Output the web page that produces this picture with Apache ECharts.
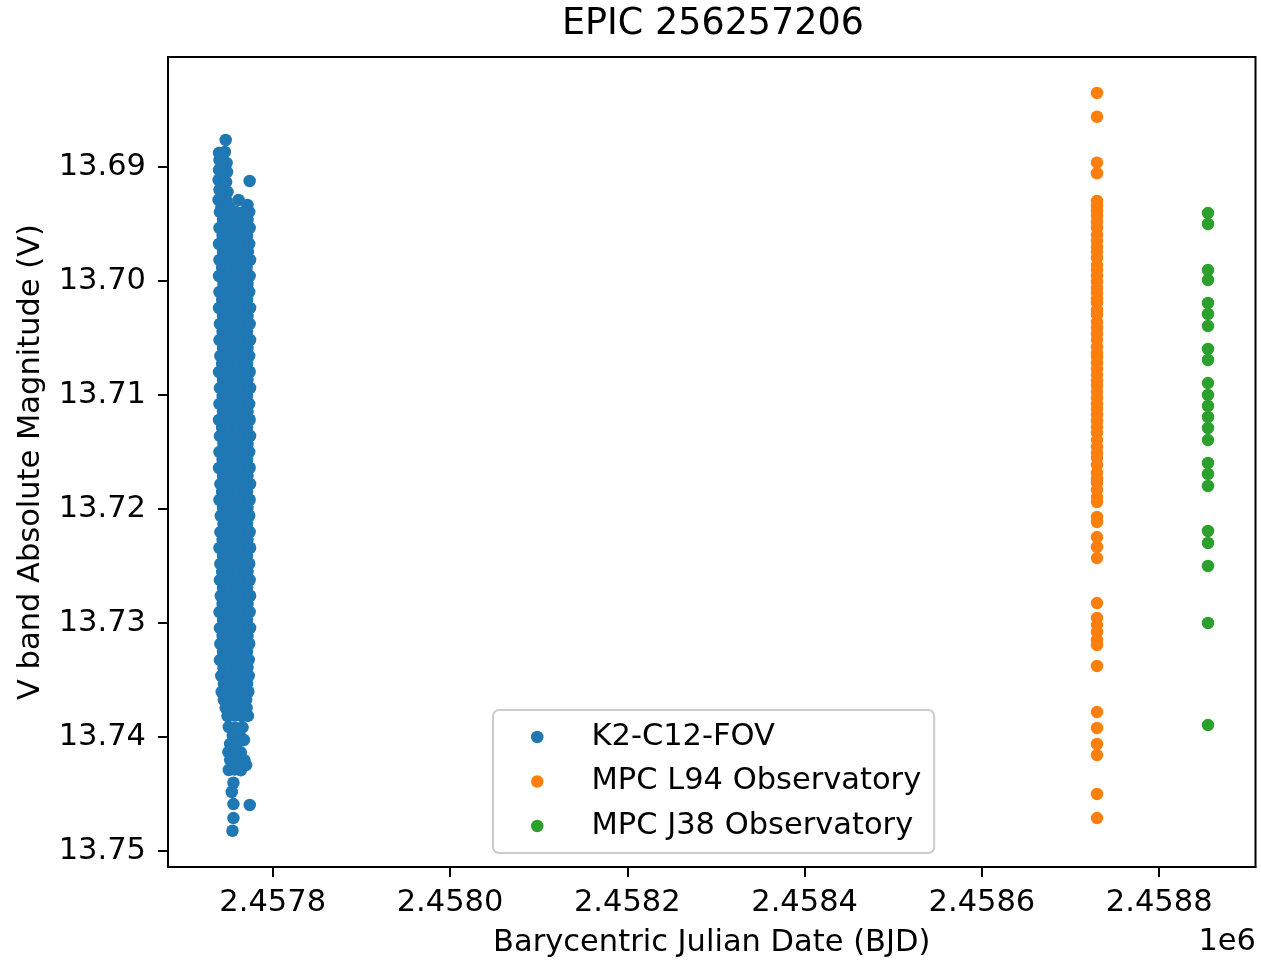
<!DOCTYPE html>
<html>
<head>
<meta charset="utf-8">
<script src="https://cdn.jsdelivr.net/npm/echarts@6/dist/echarts.min.js"></script>
<style>
html,body{margin:0;padding:0;background:#fff;}
#chart{width:1261px;height:960px;}
</style>
</head>
<body>
<div id="chart"></div>
<script>
// ---- Data ----
const chartTitle = 'EPIC 256257206';
const seriesNames = ['K2-C12-FOV', 'MPC L94 Observatory', 'MPC J38 Observatory'];
const xTicks = [2457800, 2458000, 2458200, 2458400, 2458600, 2458800];
const yTicks = [13.69, 13.70, 13.71, 13.72, 13.73, 13.74, 13.75];

// K2 campaign 12 photometry: [BJD, V mag]
const k2Points = [
[2457747.0,13.68763],
[2457739.5,13.68877],[2457746.0,13.68868],
[2457740.0,13.68939],[2457748.0,13.68965],
[2457739.5,13.69026],[2457748.5,13.69044],
[2457739.0,13.69114],[2457747.5,13.69132],[2457774.0,13.69123],
[2457740.0,13.69202],[2457749.0,13.69219],
[2457739.0,13.69289],[2457748.0,13.69298],[2457761.5,13.69289],
[2457771.5,13.69333],
[2457742.0,13.69360],[2457750.5,13.69350],
[2457740.5,13.69395],[2457749,13.69398],[2457758,13.69392],[2457766.5,13.69396],[2457773.5,13.69394],
[2457744,13.69465],[2457753,13.69462],[2457762,13.69468],[2457771.5,13.69464],
[2457740,13.69535],[2457749,13.69538],[2457758,13.69531],[2457767,13.69536],[2457774,13.69534],
[2457743.5,13.69605],[2457752.5,13.69602],[2457762,13.69608],[2457771,13.69604],
[2457739.5,13.69675],[2457749,13.69678],[2457758,13.69671],[2457767,13.69676],[2457773.5,13.69674],
[2457744,13.69746],[2457753,13.69742],[2457762,13.69748],[2457772,13.69745],
[2457740,13.69816],[2457749,13.69819],[2457758,13.69812],[2457767,13.69817],[2457774.5,13.69815],
[2457743,13.69886],[2457752,13.69882],[2457761,13.69889],[2457770.5,13.69885],
[2457739.5,13.69956],[2457749,13.69959],[2457758,13.69952],[2457767,13.69957],[2457774,13.69955],
[2457744.5,13.70026],[2457753,13.70022],[2457762,13.70029],[2457771.5,13.70025],
[2457740,13.70096],[2457749,13.70099],[2457758,13.70092],[2457767,13.70097],[2457773.5,13.70095],
[2457743,13.70167],[2457752.5,13.70163],[2457762,13.70169],[2457771,13.70166],
[2457739.5,13.70237],[2457749,13.70239],[2457758,13.70233],[2457767,13.70238],[2457774.5,13.70236],
[2457744,13.70307],[2457753,13.70303],[2457762,13.70309],[2457771.5,13.70306],
[2457740.5,13.70377],[2457749,13.70379],[2457758,13.70373],[2457767,13.70378],[2457774,13.70376],
[2457743.5,13.70447],[2457752.5,13.70443],[2457762,13.70449],[2457771,13.70446],
[2457740,13.70518],[2457749,13.70519],[2457758,13.70514],[2457767,13.70517],[2457774.5,13.70516],
[2457744,13.70588],[2457753,13.70584],[2457762,13.70589],[2457771.5,13.70587],
[2457741,13.70658],[2457749.5,13.70659],[2457758,13.70654],[2457767,13.70657],[2457773.5,13.70656],
[2457743,13.70728],[2457752,13.70724],[2457761.5,13.70729],[2457771,13.70727],
[2457739.5,13.70798],[2457749,13.70799],[2457758,13.70794],[2457767,13.70797],[2457774,13.70796],
[2457744,13.70868],[2457753,13.70864],[2457762,13.70869],[2457771.5,13.70867],
[2457740.5,13.70939],[2457749,13.70939],[2457758,13.70935],[2457767,13.70938],[2457774.5,13.70937],
[2457743.5,13.71009],[2457752.5,13.71005],[2457762,13.71010],[2457771,13.71008],
[2457740,13.71079],[2457749,13.71080],[2457758,13.71075],[2457767,13.71078],[2457773.5,13.71077],
[2457744,13.71149],[2457753,13.71145],[2457762,13.71150],[2457771.5,13.71148],
[2457739.5,13.71219],[2457749,13.71220],[2457758,13.71215],[2457767,13.71218],[2457774,13.71217],
[2457743,13.71289],[2457752,13.71285],[2457761,13.71290],[2457771,13.71288],
[2457740.5,13.71360],[2457749,13.71361],[2457758,13.71356],[2457767,13.71359],[2457774.5,13.71358],
[2457744.5,13.71430],[2457753,13.71426],[2457762,13.71431],[2457771.5,13.71429],
[2457740,13.71500],[2457749,13.71501],[2457758,13.71496],[2457767,13.71499],[2457773.5,13.71498],
[2457743.5,13.71570],[2457752.5,13.71566],[2457762,13.71571],[2457771,13.71569],
[2457739.5,13.71640],[2457749,13.71641],[2457758,13.71636],[2457767,13.71639],[2457774,13.71638],
[2457744,13.71711],[2457753,13.71707],[2457762,13.71712],[2457771.5,13.71710],
[2457741,13.71781],[2457749.5,13.71782],[2457758,13.71777],[2457767,13.71780],[2457774.5,13.71779],
[2457743,13.71851],[2457752,13.71847],[2457761.5,13.71852],[2457771,13.71850],
[2457740,13.71921],[2457749,13.71922],[2457758,13.71917],[2457767,13.71920],[2457774,13.71919],
[2457744,13.71991],[2457753,13.71987],[2457762,13.71992],[2457771.5,13.71990],
[2457741.5,13.72061],[2457750,13.72062],[2457758.5,13.72057],[2457767,13.72060],[2457773.5,13.72059],
[2457744.5,13.72132],[2457753,13.72128],[2457762,13.72133],[2457771,13.72131],
[2457741,13.72202],[2457749.5,13.72203],[2457758,13.72198],[2457767,13.72201],[2457774,13.72200],
[2457743.5,13.72272],[2457752.5,13.72268],[2457762,13.72273],[2457771.5,13.72271],
[2457740,13.72342],[2457749,13.72343],[2457758,13.72338],[2457767,13.72341],[2457774.5,13.72340],
[2457744,13.72412],[2457753,13.72408],[2457762,13.72413],[2457771,13.72411],
[2457741,13.72482],[2457749.5,13.72483],[2457758,13.72478],[2457767,13.72481],[2457773.5,13.72480],
[2457743,13.72553],[2457752,13.72549],[2457761.5,13.72554],[2457771.5,13.72552],
[2457740.5,13.72623],[2457749,13.72624],[2457758,13.72619],[2457767,13.72622],[2457774,13.72621],
[2457744,13.72693],[2457753,13.72689],[2457762,13.72694],[2457771,13.72692],
[2457741.5,13.72763],[2457750,13.72764],[2457758.5,13.72759],[2457767,13.72762],[2457774.5,13.72761],
[2457743.5,13.72833],[2457752.5,13.72829],[2457762,13.72834],[2457771.5,13.72832],
[2457740,13.72904],[2457749,13.72905],[2457758,13.72900],[2457767,13.72903],[2457774,13.72902],
[2457744,13.72974],[2457753,13.72970],[2457762,13.72975],[2457771,13.72973],
[2457740.5,13.73044],[2457749,13.73045],[2457758,13.73040],[2457767,13.73043],[2457774.5,13.73042],
[2457743.5,13.73114],[2457752.5,13.73110],[2457762,13.73115],[2457771.5,13.73113],
[2457741,13.73184],[2457749.5,13.73185],[2457758,13.73180],[2457767,13.73183],[2457773.5,13.73182],
[2457744,13.73254],[2457753,13.73250],[2457762,13.73255],[2457771,13.73253],
[2457740.5,13.73325],[2457749,13.73326],[2457758,13.73321],[2457767,13.73324],[2457773,13.73323],
[2457744.5,13.73395],[2457753,13.73391],[2457762,13.73396],[2457771.5,13.73394],
[2457742,13.73465],[2457750,13.73466],[2457758,13.73461],[2457766.5,13.73464],[2457773,13.73463],
[2457745,13.73535],[2457753.5,13.73531],[2457762,13.73536],[2457771,13.73534],
[2457742.5,13.73605],[2457750,13.73606],[2457758,13.73601],[2457766,13.73604],[2457772.5,13.73603],
[2457745,13.73675],[2457753,13.73671],[2457761.5,13.73676],[2457770,13.73674],
[2457747,13.73746],[2457755,13.73742],[2457763,13.73747],[2457770.5,13.73745],
[2457749,13.73816],[2457757,13.73812],[2457765,13.73817],[2457772,13.73815],
[2457750.5,13.73912],[2457758,13.73918],[2457766,13.73915],
[2457755,13.73991],[2457763,13.73988],
[2457767.5,13.74026],
[2457752,13.74061],[2457759,13.74058],
[2457750,13.74132],[2457757,13.74128],[2457764,13.74134],
[2457752,13.74202],[2457760,13.74198],[2457768,13.74204],
[2457770,13.74246],
[2457750.5,13.74289],[2457757,13.74285],[2457764,13.74291],
[2457755.7,13.74401],[2457753.8,13.74482],[2457755.7,13.74588],[2457774.1,13.74596],
[2457755.7,13.74711],[2457754.6,13.74822]
];

// MPC L94 observations (all at one epoch column)
const l94BJD = 2458729.8;
const l94Mag = [13.68351,13.68559,13.68962,13.69055,
13.69298,13.69342,13.69386,13.69430,13.69482,13.69535,13.69596,13.69649,13.69702,13.69746,
13.69798,13.69860,13.69904,13.69956,13.70009,13.70061,13.70105,13.70158,13.70193,13.70254,
13.70298,13.70360,13.70412,13.70465,13.70518,13.70579,13.70632,13.70667,13.70719,13.70772,
13.70825,13.70877,13.70921,13.70974,13.71026,13.71079,13.71123,13.71175,13.71228,13.71281,
13.71333,13.71395,13.71456,13.71509,13.71553,13.71614,13.71684,13.71737,13.71772,13.71833,
13.71895,13.71939,13.72070,13.72114,13.72246,13.72333,13.72430,
13.72825,13.72956,13.73018,13.73079,13.73149,13.73193,13.73377,
13.73781,13.73921,13.74061,13.74158,13.74500,13.74711];

// MPC J38 observations
const j38BJD = 2458855.0;
const j38Mag = [13.69404,13.69500,13.69904,13.69991,13.70193,13.70289,13.70395,13.70596,
13.70693,13.70895,13.71000,13.71096,13.71193,13.71289,13.71395,13.71596,13.71693,13.71798,
13.72193,13.72298,13.72500,13.73000,13.73895];

const colors = ['#1f77b4', '#ff7f0e', '#2ca02c'];
const FONT = 'DejaVu Sans';
const FS = 30.5;

const chart = echarts.init(document.getElementById('chart'), null, {renderer: 'canvas'});
const option = {
  animation: false,
  backgroundColor: '#ffffff',
  textStyle: {fontFamily: FONT, color: '#000'},
  grid: {left: 168, right: 5.5, top: 57, bottom: 93, show: true, borderColor: '#000', borderWidth: 2,
    backgroundColor: 'transparent', containLabel: false, outerBoundsMode: 'none'},
  title: {show: false},
  graphic: [
    {type: 'text', x: 713, y: 25, style: {text: chartTitle, font: '36.5px "DejaVu Sans"', fill: '#000', textAlign: 'center', textVerticalAlign: 'middle'}},
    {type: 'text', x: 1256, y: 942, style: {text: '1e6', font: FS + 'px "DejaVu Sans"', fill: '#000', textAlign: 'right', textVerticalAlign: 'middle'}}
  ],
  legend: {
    orient: 'vertical',
    left: 493, top: 710,
    padding: [10, 13, 10, 38],
    itemGap: 10.5,
    itemWidth: 12.5, itemHeight: 12.5,
    icon: 'circle',
    backgroundColor: 'rgba(255,255,255,0.8)',
    borderColor: '#cccccc', borderWidth: 2, borderRadius: 6,
    textStyle: {fontFamily: FONT, fontSize: FS, color: '#000', lineHeight: 34, padding: [0, 0, 0, 43]},
    data: seriesNames
  },
  xAxis: {
    type: 'value',
    min: 2457681.9, max: 2458908.6,
    name: 'Barycentric Julian Date (BJD)',
    nameLocation: 'middle', nameGap: 61,
    nameTextStyle: {fontFamily: FONT, fontSize: FS, color: '#000'},
    axisLine: {show: true, onZero: false, lineStyle: {color: '#000', width: 2}},
    axisTick: {show: true, length: 10, lineStyle: {color: '#000', width: 2}, customValues: xTicks},
    axisLabel: {fontFamily: FONT, fontSize: FS, color: '#000', margin: 21, customValues: xTicks,
      formatter: v => (v / 1e6).toFixed(4)},
    splitLine: {show: false}
  },
  yAxis: {
    type: 'value',
    inverse: true,
    min: 13.68035, max: 13.75140,
    name: 'V band Absolute Magnitude (V)',
    nameLocation: 'middle', nameGap: 121,
    nameTextStyle: {fontFamily: FONT, fontSize: FS, color: '#000'},
    axisLine: {show: true, onZero: false, lineStyle: {color: '#000', width: 2}},
    axisTick: {show: true, length: 10, lineStyle: {color: '#000', width: 2}, customValues: yTicks},
    axisLabel: {fontFamily: FONT, fontSize: FS, color: '#000', margin: 22, customValues: yTicks,
      formatter: v => v.toFixed(2)},
    splitLine: {show: false}
  },
  series: [
    {name: seriesNames[0], type: 'scatter', data: k2Points, symbolSize: 12.5,
     itemStyle: {color: colors[0], opacity: 1}},
    {name: seriesNames[1], type: 'scatter', data: l94Mag.map(m => [l94BJD, m]), symbolSize: 12.5,
     itemStyle: {color: colors[1], opacity: 1}},
    {name: seriesNames[2], type: 'scatter', data: j38Mag.map(m => [j38BJD, m]), symbolSize: 12.5,
     itemStyle: {color: colors[2], opacity: 1}}
  ]
};
chart.setOption(option);
</script>
</body>
</html>
